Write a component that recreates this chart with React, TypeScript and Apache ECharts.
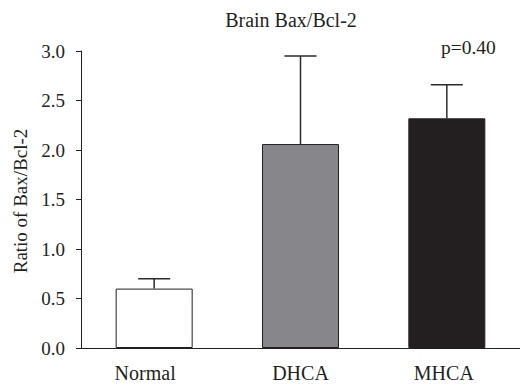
import React, { useEffect, useRef } from "react";
import * as echarts from "echarts";

const categories = ["Normal", "DHCA", "MHCA"];
const means = [0.6, 2.06, 2.32];
const upperErrors = [0.7, 2.95, 2.66];
const barColors = ["#ffffff", "#87878b", "#231f20"];
const yTicks = [0, 0.5, 1.0, 1.5, 2.0, 2.5, 3.0];
const titleText = "Brain Bax/Bcl-2";
const yAxisName = "Ratio of Bax/Bcl-2";
const annotation = "p=0.40";

const FONT = "'Liberation Serif', 'DejaVu Serif', serif";
const TEXT = "#231f20";

export default function App() {
  const ref = useRef<HTMLDivElement>(null);
  useEffect(() => {
    if (!ref.current) return;
    const chart = echarts.init(ref.current, null, { renderer: "svg" });
    const errData = categories.map((c, i) => [i, means[i], upperErrors[i]]);
    const labelStyle = { fontFamily: FONT, fontSize: 20, color: TEXT };
    chart.setOption({
      animation: false,
      backgroundColor: "#ffffff",
      title: {
        text: titleText,
        left: 286,
        textAlign: "center",
        top: 5,
        textStyle: { fontFamily: FONT, fontSize: 20, fontWeight: "normal", color: TEXT },
      },
      grid: { left: 81, right: -2, top: 51, bottom: 39, containLabel: false },
      xAxis: {
        type: "category",
        data: categories,
        axisLine: { lineStyle: { color: TEXT, width: 1 } },
        axisTick: { alignWithLabel: true, length: 5, lineStyle: { color: TEXT } },
        axisLabel: {
          margin: 15,
          formatter: (v: string) =>
            v === "Normal" ? `{n|${v}}` : v === "MHCA" ? `{m|${v}}` : `{d|${v}}`,
          rich: {
            n: { ...labelStyle, padding: [0, 18, 0, 0] },
            d: { ...labelStyle },
            m: { ...labelStyle, padding: [0, 6, 0, 0] },
          },
        },
      },
      yAxis: {
        type: "value",
        min: 0,
        max: 3,
        interval: 0.5,
        axisLine: { show: true, lineStyle: { color: TEXT, width: 1 } },
        axisTick: { show: true, length: 5, lineStyle: { color: TEXT } },
        splitLine: { show: false },
        axisLabel: {
          fontFamily: FONT,
          fontSize: 19,
          color: TEXT,
          margin: 16,
          padding: [0, 0, 7, 0],
          formatter: (v: number) => (yTicks.includes(v) ? v.toFixed(1) : ""),
        },
      },
      series: [
        {
          type: "custom",
          z: 1,
          renderItem: (params: any, api: any) => {
            const x = api.value(0);
            const top = api.coord([x, api.value(2)]);
            const base = api.coord([x, api.value(1)]);
            const half = 16;
            return {
              type: "group",
              children: [
                {
                  type: "line",
                  shape: { x1: top[0], y1: top[1], x2: base[0], y2: base[1] },
                  style: { stroke: "#2b2b2b", lineWidth: 1.5 },
                },
                {
                  type: "line",
                  shape: { x1: top[0] - half, y1: top[1], x2: top[0] + half, y2: top[1] },
                  style: { stroke: "#2b2b2b", lineWidth: 1.5 },
                },
              ],
            };
          },
          data: errData,
        },
        {
          type: "bar",
          z: 2,
          barWidth: 77,
          data: means.map((v, i) => ({
            value: v,
            itemStyle: { color: barColors[i], borderColor: TEXT, borderWidth: 1 },
          })),
        },
      ],
      graphic: [
        {
          type: "text",
          x: 20,
          y: 201,
          rotation: Math.PI / 2,
          style: {
            text: yAxisName,
            font: `19px ${FONT}`,
            fill: TEXT,
            align: "center",
            verticalAlign: "middle",
          },
        },
        {
          type: "text",
          left: 441,
          top: 37,
          style: { text: annotation, font: `19.5px ${FONT}`, fill: TEXT },
        },
      ],
    });
    return () => chart.dispose();
  }, []);
  return (
    <div
      ref={ref}
      style={{ position: "fixed", left: 0, top: 0, width: 520, height: 387 }}
    />
  );
}
